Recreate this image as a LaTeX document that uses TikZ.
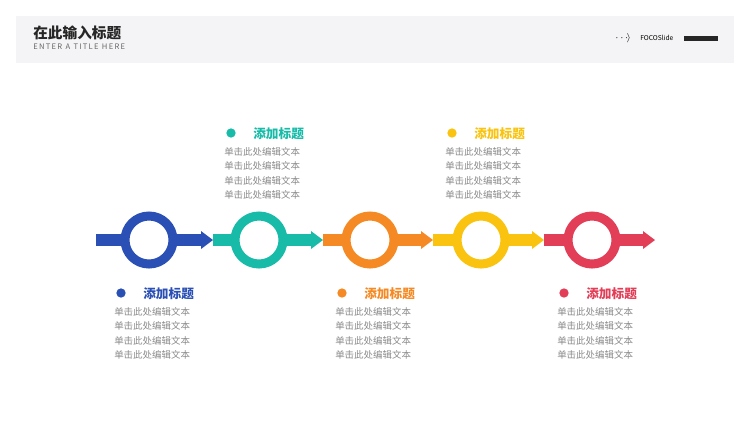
\documentclass[tikz,border=0pt]{standalone}
\usepackage{fontspec}
\setmainfont{Noto Sans CJK SC}
\definecolor{cA}{HTML}{2A4FB5}
\definecolor{cB}{HTML}{17BBA8}
\definecolor{cC}{HTML}{F58A25}
\definecolor{cD}{HTML}{F9C310}
\definecolor{cE}{HTML}{E23E57}
\definecolor{hdr}{HTML}{F4F4F6}
\definecolor{txt}{HTML}{8A8A8A}
\begin{document}
\begin{tikzpicture}[x=0.75pt,y=-0.75pt,
  ring/.style={circle,line width=6.75pt,minimum size=36pt,inner sep=0pt,fill=white},
  ttl/.style={anchor=west,font=\fontsize{9.5}{10}\selectfont\bfseries,inner sep=0pt},
  body/.style={anchor=north west,font=\fontsize{7.1}{10.9}\selectfont,text=txt,align=left,inner sep=0pt},
  dotm/.style={circle,inner sep=0pt,minimum size=7pt}]
\useasboundingbox (0,0) rectangle (750,422);
\fill[hdr] (16,16) rectangle (734,63);
\node[anchor=west,inner sep=0pt,font=\fontsize{11}{12}\selectfont\bfseries,text=black!85] (t) at (33,33) {在此输入标题};
\node[anchor=west,inner sep=0pt,font=\fontsize{5.7}{6}\selectfont,text=black!60] (st) at (33,47) {E\,N\,T\,E\,R\ \ A\ \ T\,I\,T\,L\,E\ \ H\,E\,R\,E};
\node[anchor=west,inner sep=0pt,font=\fontsize{7}{7}\selectfont] (ar) at (615,38) {$\cdots\!\rangle$};
\node[anchor=west,inner sep=0pt,font=\fontsize{5}{6}\selectfont] (fs) at (640,38) {FOCOSlide};
\fill[black!85] (684,36) rectangle (718,41);
\foreach \a/\b/\c in {96/213/cA,213/323/cB,323/433/cC,433/544/cD,544/655/cE}{
  \fill[\c] (\a,234) rectangle (\b-12,246);
  \fill[\c] (\b-12,231) -- (\b,240) -- (\b-12,249) -- cycle;
}
\node[ring,draw=cA] (r1) at (149,240) {};
\node[ring,draw=cB] (r2) at (259,240) {};
\node[ring,draw=cC] (r3) at (370,240) {};
\node[ring,draw=cD] (r4) at (481,240) {};
\node[ring,draw=cE] (r5) at (592,240) {};
\foreach \n/\x/\y/\c in {1/114/293/cA,2/224/133/cB,3/335/293/cC,4/445/133/cD,5/557/293/cE}{
  \node[dotm,fill=\c] (d\n) at (\x+7,\y) {};
  \node[ttl,text=\c] (l\n) at (\x+29,\y+1) {添加标题};
  \node[body] (b\n) at (\x,\y+14) {单击此处编辑文本\\单击此处编辑文本\\单击此处编辑文本\\单击此处编辑文本};
}
\end{tikzpicture}
\end{document}
